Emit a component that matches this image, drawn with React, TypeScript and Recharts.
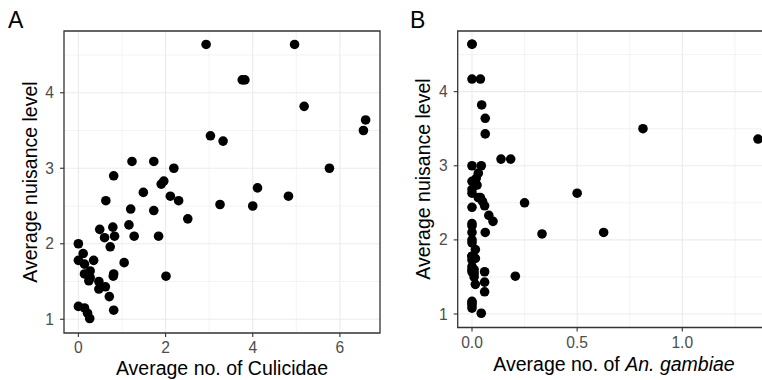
import React from 'react';
import {
  ScatterChart, Scatter, XAxis, YAxis, CartesianGrid, ReferenceArea
} from 'recharts';

// average nuisance level per site (y in both panels)
const nuisance = [
  4.64, 4.64, 4.17, 4.17, 3.82, 3.64, 3.5, 3.43, 3.36, 3.09,
  3.09, 3.0, 3.0, 2.9, 2.83, 2.79, 2.74, 2.68, 2.63, 2.63,
  2.57, 2.57, 2.52, 2.5, 2.46, 2.44, 2.33, 2.25, 2.19, 2.22,
  2.08, 2.1, 2.1, 2.1, 1.96, 2.0, 1.87, 1.78, 1.78, 1.75,
  1.73, 1.64, 1.6, 1.6, 1.57, 1.57, 1.51, 1.55, 1.5, 1.43,
  1.4, 1.3, 1.17, 1.15, 1.08, 1.01, 1.12,
];

// panel A: average no. of Culicidae
const culicidae = [
  2.93, 4.96, 3.76, 3.82, 5.18, 6.59, 6.54, 3.03, 3.32, 1.23,
  1.73, 2.19, 5.76, 0.81, 1.96, 1.9, 4.11, 1.49, 2.11, 4.82,
  0.63, 2.3, 3.25, 4.0, 1.2, 1.73, 2.51, 1.16, 0.49, 0.79,
  0.6, 0.83, 1.28, 1.84, 0.73, 0.0, 0.11, 0.0, 0.35, 1.05,
  0.14, 0.27, 0.14, 0.81, 0.8, 2.01, 0.24, 0.27, 0.47, 0.62,
  0.47, 0.71, 0.0, 0.14, 0.21, 0.26, 0.81,
];

// panel B: average no. of An. gambiae
const gambiae = [
  0, 0, 0, 0.04, 0.046, 0.063, 0.813, 0.063, 1.36, 0.138,
  0.184, 0, 0.044, 0.03, 0.02, 0, 0.024, 0, 0.5, 0,
  0.03, 0.04, 0.05, 0.25, 0.06, 0, 0.08, 0.1, 0, 0,
  0.333, 0.626, 0.063, 0, 0, 0, 0.016, 0, 0, 0.016,
  0, 0, 0, 0.01, 0.06, 0, 0.206, 0.01, 0.01, 0.06,
  0.016, 0.06, 0, 0, 0, 0.044, 0,
];

const yTicks = [1, 2, 3, 4];
const yMinor = [1.5, 2.5, 3.5, 4.5];
const xTicksA = [0, 2, 4, 6];
const xMinorA = [1, 3, 5];
const xTicksB = [0, 0.5, 1.0];
const xMinorB = [0.25, 0.75, 1.25];

const yDomain: [number, number] = [0.818, 4.818];
const xDomainA: [number, number] = [-0.33, 6.92];
const xDomainB: [number, number] = [-0.068, 1.428];

const dataA = nuisance.map((y, i) => ({ x: culicidae[i], y }));
const dataB = nuisance.map((y, i) => ({ x: gambiae[i], y }));

const FONT = '"Liberation Sans", Arial, sans-serif';
const tickStyle = { fill: '#4D4D4D', fontSize: 15.6, fontFamily: FONT };

const Dot = (p: any) => <circle cx={p.cx} cy={p.cy} r={4.8} fill="#000" />;

function Panel({ data, xDomain, xTicks, xMinor, yAxisWidth, xAxisHeight, width, marginRight, fmt }: any) {
  return (
    <ScatterChart
      width={width}
      height={380}
      margin={{ top: 31, right: marginRight, left: 0, bottom: 0 }}
    >
      <CartesianGrid
        stroke="#EBEBEB"
        strokeWidth={0.6}
        verticalValues={xMinor}
        horizontalValues={yMinor}
        fill="none"
      />
      <CartesianGrid
        stroke="#EBEBEB"
        strokeWidth={1.1}
        verticalValues={xTicks}
        horizontalValues={yTicks}
        fill="none"
      />
      <XAxis
        type="number"
        dataKey="x"
        domain={xDomain}
        ticks={xTicks}
        allowDataOverflow
        height={xAxisHeight}
        tickFormatter={fmt}
        axisLine={false}
        tickLine={{ stroke: '#333333', strokeWidth: 1.1 }}
        tickSize={4}
        tickMargin={5}
        tick={tickStyle}
        interval={0}
      />
      <YAxis
        type="number"
        dataKey="y"
        domain={yDomain}
        ticks={yTicks}
        allowDataOverflow
        width={yAxisWidth}
        axisLine={false}
        tickLine={{ stroke: '#333333', strokeWidth: 1.1 }}
        tickSize={4}
        tickMargin={6}
        tick={tickStyle}
        interval={0}
      />
      <Scatter data={data} shape={Dot} isAnimationActive={false} />
      <ReferenceArea
        x1={xDomain[0]}
        x2={xDomain[1]}
        y1={yDomain[0]}
        y2={yDomain[1]}
        fill="none"
        fillOpacity={0}
        stroke="#333333"
        strokeWidth={1.3}
      />
    </ScatterChart>
  );
}

export default function App() {
  const titleStyle = { fontFamily: FONT, fontSize: 19.5, fill: '#000' };
  return (
    <div style={{ position: 'fixed', left: 0, top: 0, width: 762, height: 380, overflow: 'hidden', background: '#fff' }}>
      <div style={{ position: 'absolute', left: 0, top: 0 }}>
        <Panel
          data={dataA}
          xDomain={xDomainA}
          xTicks={xTicksA}
          xMinor={xMinorA}
          yAxisWidth={64}
          xAxisHeight={47}
          width={381}
          marginRight={1}
        />
      </div>
      <div style={{ position: 'absolute', left: 381, top: 0 }}>
        <Panel
          data={dataB}
          xDomain={xDomainB}
          xTicks={xTicksB}
          xMinor={xMinorB}
          yAxisWidth={76.7}
          xAxisHeight={52.5}
          width={400}
          marginRight={8.7}
          fmt={(v: number) => v.toFixed(1)}
        />
      </div>
      <svg width={762} height={380} style={{ position: 'absolute', left: 0, top: 0, pointerEvents: 'none' }}>
        <text x={8} y={28.3} style={{ fontFamily: FONT, fontSize: 23 }}>A</text>
        <text x={410} y={27.5} style={{ fontFamily: FONT, fontSize: 23 }}>B</text>
        <text x={222} y={375} textAnchor="middle" style={titleStyle}>Average no. of Culicidae</text>
        <text x={614} y={370.5} textAnchor="middle" style={titleStyle}>
          Average no. of <tspan fontStyle="italic">An. gambiae</tspan>
        </text>
        <text transform="translate(37,182) rotate(-90)" textAnchor="middle" style={titleStyle}>Average nuisance level</text>
        <text transform="translate(430,179) rotate(-90)" textAnchor="middle" style={titleStyle}>Average nuisance level</text>
      </svg>
    </div>
  );
}
